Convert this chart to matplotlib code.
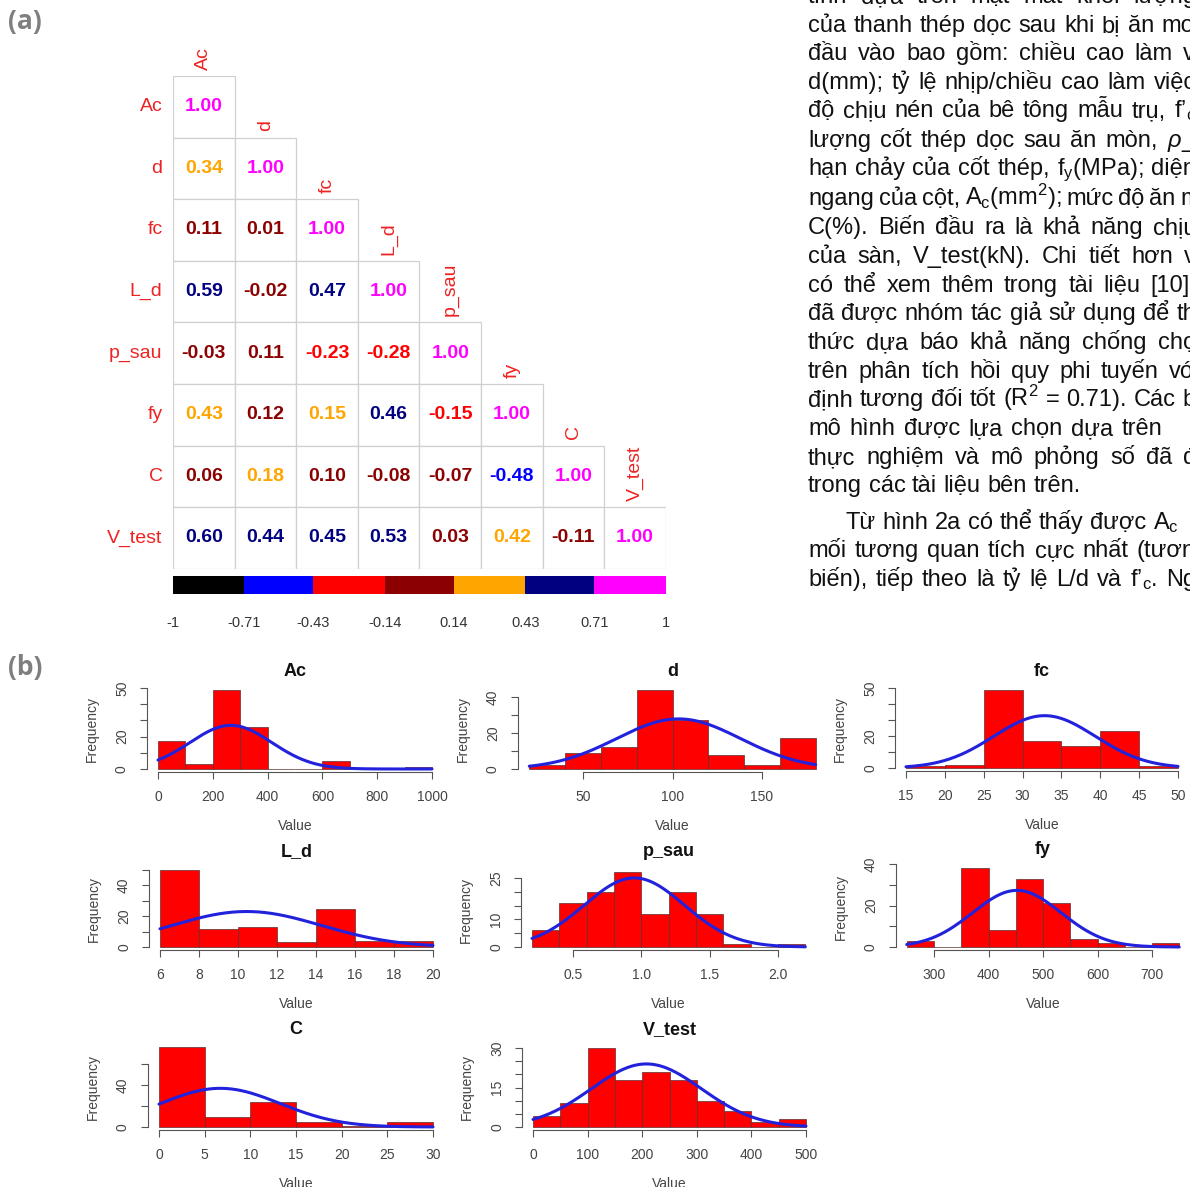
import numpy as np
import matplotlib
matplotlib.use("Agg")
import matplotlib.pyplot as plt
from matplotlib.colors import ListedColormap
from matplotlib.patches import Rectangle

W, H, DPI = 1190, 1187, 100

plt.rcParams["font.family"] = ["Liberation Sans", "Roboto", "DejaVu Sans"]
plt.rcParams["mathtext.fontset"] = "custom"
plt.rcParams["mathtext.rm"] = "Liberation Sans"
plt.rcParams["mathtext.it"] = "Liberation Sans:italic"
plt.rcParams["mathtext.bf"] = "Liberation Sans:bold"

# ---------------- correlation matrix (lower triangle) ----------------
variables = ["Ac", "d", "fc", "L_d", "p_sau", "fy", "C", "V_test"]
corr_lower = [
    [1.00],
    [0.34, 1.00],
    [0.11, 0.01, 1.00],
    [0.59, -0.02, 0.47, 1.00],
    [-0.03, 0.11, -0.23, -0.28, 1.00],
    [0.43, 0.12, 0.15, 0.46, -0.15, 1.00],
    [0.06, 0.18, 0.10, -0.08, -0.07, -0.48, 1.00],
    [0.60, 0.44, 0.45, 0.53, 0.03, 0.42, -0.11, 1.00],
]
color_breaks = [-1, -0.71, -0.43, -0.14, 0.14, 0.43, 0.71, 1]
break_labels = ["-1", "-0.71", "-0.43", "-0.14", "0.14", "0.43", "0.71", "1"]
color_levels = ["#000000", "#0000FF", "#FF0000", "#8B0000",
                "#FFA500", "#000080", "#FF00FF"]

# ---------------- histogram data ----------------
ac_edges = [0, 100, 200, 300, 400, 500, 600, 700, 800, 900, 1000]
ac_counts = [17, 3, 49, 26, 0, 0, 5, 0, 0, 1]
d_edges = [20, 40, 60, 80, 100, 120, 140, 160, 180]
d_counts = [2, 9, 12, 44, 27, 8, 2, 17]
fc_edges = [15, 20, 25, 30, 35, 40, 45, 50]
fc_counts = [1, 2, 49, 17, 14, 23, 1]
ld_edges = [6, 8, 10, 12, 14, 16, 18, 20]
ld_counts = [50, 12, 13, 3, 25, 4, 4]
psau_edges = [0.2, 0.4, 0.6, 0.8, 1.0, 1.2, 1.4, 1.6, 1.8, 2.0, 2.2]
psau_counts = [6, 16, 20, 27, 12, 20, 12, 1, 0, 1]
fy_edges = [250, 300, 350, 400, 450, 500, 550, 600, 650, 700, 750]
fy_counts = [3, 0, 38, 8, 33, 21, 4, 2, 0, 2]
c_edges = [0, 5, 10, 15, 20, 25, 30]
c_counts = [76, 10, 24, 5, 1, 5]
vt_edges = [0, 50, 100, 150, 200, 250, 300, 350, 400, 450, 500]
vt_counts = [4, 9, 30, 18, 21, 18, 10, 6, 2, 3]

ac_xticks = [0, 200, 400, 600, 800, 1000]
d_xticks = [50, 100, 150]
fc_xticks = [15, 20, 25, 30, 35, 40, 45, 50]
ld_xticks = [6, 8, 10, 12, 14, 16, 18, 20]
psau_xticks = [0.5, 1.0, 1.5, 2.0]
psau_xticklabels = ["0.5", "1.0", "1.5", "2.0"]
fy_xticks = [300, 400, 500, 600, 700]
c_xticks = [0, 5, 10, 15, 20, 25, 30]
vt_xticks = [0, 100, 200, 300, 400, 500]

ac_yticks = [0, 10, 20, 30, 40, 50]
ac_ylabels = ["0", "", "20", "", "", "50"]
d_yticks = [0, 10, 20, 30, 40]
d_ylabels = ["0", "", "20", "", "40"]
fc_yticks = [0, 10, 20, 30, 40, 50]
fc_ylabels = ["0", "", "20", "", "", "50"]
ld_yticks = [0, 10, 20, 30, 40, 50]
ld_ylabels = ["0", "", "20", "", "40", ""]
psau_yticks = [0, 5, 10, 15, 20, 25]
psau_ylabels = ["0", "", "10", "", "", "25"]
fy_yticks = [0, 10, 20, 30, 40]
fy_ylabels = ["0", "", "20", "", "40"]
c_yticks = [0, 20, 40, 60]
c_ylabels = ["0", "", "40", ""]
vt_yticks = [0, 5, 10, 15, 20, 25, 30]
vt_ylabels = ["0", "", "", "15", "", "", "30"]

fig = plt.figure(figsize=(W / DPI, H / DPI), dpi=DPI)
fig.patch.set_facecolor("white")


def px_axes(l, t, r, b):
    return fig.add_axes([l / W, 1 - b / H, (r - l) / W, (b - t) / H])


# ---------------- (a) correlation plot ----------------
gx0, gy0, cell = 173, 76, 61.6
n = len(variables)
axc = px_axes(gx0, gy0, gx0 + n * cell, gy0 + n * cell)
axc.set_xlim(0, n)
axc.set_ylim(n, 0)
axc.axis("off")
label_red = "#ee2222"
for i, row in enumerate(corr_lower):
    for j, v in enumerate(row):
        axc.add_patch(Rectangle((j, i), 1, 1, facecolor="white",
                                edgecolor="#d0d0d0", lw=0.9))
        k = min(max(int(np.searchsorted(color_breaks, v, side="left")) - 1, 0), 6)
        axc.text(j + 0.5, i + 0.5, f"{v:.2f}", ha="center", va="center",
                 fontsize=14, fontweight="bold", color=color_levels[k])
    axc.text(-0.17, i + 0.5, variables[i], ha="right", va="center",
             fontsize=14, color=label_red)
    axc.text(i + 0.5, i - 0.1, variables[i], ha="center", va="bottom",
             rotation=90, fontsize=14, color=label_red)

cax = px_axes(gx0, 576, gx0 + n * cell, 594)
cax.pcolormesh(color_breaks, [0, 1], [np.arange(len(color_levels))],
               cmap=ListedColormap(color_levels), vmin=-0.5,
               vmax=len(color_levels) - 0.5)
cax.set_xlim(-1, 1)
cax.set_ylim(0, 1)
cax.set_yticks([])
cax.set_xticks(color_breaks)
cax.set_xticklabels(break_labels)
cax.tick_params(axis="x", length=0, pad=16, labelsize=10.5, labelcolor="#333333")
for s in cax.spines.values():
    s.set_visible(False)

# ---------------- (b) histograms ----------------
panels = [
    ("Ac", ac_edges, ac_counts, ac_xticks, None, ac_yticks, ac_ylabels,
     (158, 432, 0, 1000, 769, 688, 50), 672),
    ("d", d_edges, d_counts, d_xticks, None, d_yticks, d_ylabels,
     (583, 762, 50, 150, 769, 697, 40), 672),
    ("fc", fc_edges, fc_counts, fc_xticks, None, fc_yticks, fc_ylabels,
     (906, 1178, 15, 50, 768, 688, 50), 672),
    ("L_d", ld_edges, ld_counts, ld_xticks, None, ld_yticks, ld_ylabels,
     (160, 433, 6, 20, 947, 870, 50), 852),
    ("p_sau", psau_edges, psau_counts, psau_xticks, psau_xticklabels,
     psau_yticks, psau_ylabels, (573, 778, 0.5, 2.0, 947, 878, 25), 852),
    ("fy", fy_edges, fy_counts, fy_xticks, None, fy_yticks, fy_ylabels,
     (934, 1152, 300, 700, 947, 863, 40), 850),
    ("C", c_edges, c_counts, c_xticks, None, c_yticks, c_ylabels,
     (159, 433, 0, 30, 1127, 1064, 60), 1030),
    ("V_test", vt_edges, vt_counts, vt_xticks, None, vt_yticks, vt_ylabels,
     (533, 806, 0, 500, 1127, 1048, 30), 1030),
]

axis_grey = "#555555"
for name, edges, counts, xt, xtl, yt, ytl, anchor, title_y in panels:
    pxa, pxb, va_, vb_, py0, pyt, vt_ = anchor
    edges = np.asarray(edges, float)
    counts = np.asarray(counts, float)
    lo, hi = edges[0], edges[-1]
    xlim = (lo - 0.04 * (hi - lo), hi + 0.04 * (hi - lo))
    ymax = counts.max()
    ylim = (-0.04 * ymax, 1.04 * ymax)
    sx = (pxb - pxa) / (vb_ - va_)
    sy = (py0 - pyt) / vt_
    l = pxa + (xlim[0] - va_) * sx
    r = pxa + (xlim[1] - va_) * sx
    b = py0 - ylim[0] * sy
    t = py0 - ylim[1] * sy
    ax = px_axes(l, t, r, b)
    widths = np.diff(edges)
    ax.bar(edges[:-1], counts, width=widths, align="edge", color="#ff0000",
           edgecolor="#5a3030", linewidth=0.5)
    # normal curve fitted to the binned sample
    mids = edges[:-1] + widths / 2
    ntot = counts.sum()
    mu = (mids * counts).sum() / ntot
    sd = np.sqrt(((mids - mu) ** 2 * counts).sum() / (ntot - 1))
    xs = np.linspace(lo, hi, 300)
    ys = ntot * widths[0] * np.exp(-0.5 * ((xs - mu) / sd) ** 2) / (sd * np.sqrt(2 * np.pi))
    ax.plot(xs, ys, color="#2222dd", lw=2.2, solid_capstyle="round")
    ax.set_xlim(*xlim)
    ax.set_ylim(*ylim)
    for s in ("top", "right"):
        ax.spines[s].set_visible(False)
    for s in ("left", "bottom"):
        ax.spines[s].set_color(axis_grey)
        ax.spines[s].set_linewidth(0.8)
    ax.spines["bottom"].set_bounds(xt[0], xt[-1])
    ax.spines["left"].set_bounds(yt[0], yt[-1])
    ax.set_xticks(xt)
    ax.set_xticklabels(xtl if xtl is not None else [str(v) for v in xt])
    ax.set_yticks(yt)
    ax.set_yticklabels(ytl, rotation=90, va="center")
    ax.tick_params(length=5, width=0.8, color=axis_grey, labelsize=10,
                   labelcolor="#444444", pad=8)
    ax.set_facecolor("none")
    cx = (l + r) / 2
    fig.text(cx / W, 1 - title_y / H, name, ha="center", va="center",
             fontsize=13, fontweight="bold", color="#111111")
    fig.text(cx / W, 1 - (b + 54) / H, "Value", ha="center", va="center",
             fontsize=10, color="#444444")
    fig.text((l - 55) / W, 1 - ((t + b) / 2) / H, "Frequency", ha="center",
             va="center", rotation=90, fontsize=10, color="#444444")

# ---------------- panel letters ----------------
for txt, y in (("(a)", 22), ("(b)", 667)):
    fig.text(8 / W, 1 - y / H, txt, ha="left", va="center", fontsize=19,
             fontweight="bold", color="#7f7f7f", family=["Open Sans", "DejaVu Sans"])

# ---------------- body text column ----------------
body_lines = [
    ("tính dựa trên mặt mất khối lượng", 808, -4, 1196),
    ("của thanh thép dọc sau khi bị ăn mo", 808, 25, 1194),
    ("đầu vào bao gồm: chiều cao làm v", 808, 53, 1195),
    ("d(mm); tỷ lệ nhịp/chiều cao làm việc", 808, 82, 1196),
    ("độ chịu nén của bê tông mẫu trụ, f’$_\\mathregular{c}$", 808, 110, 1196),
    ("lượng cốt thép dọc sau ăn mòn, $\\rho$_", 808, 140, 1196),
    ("hạn chảy của cốt thép, f$_\\mathregular{y}$(MPa); diện", 808, 168, 1196),
    ("ngang của cột, A$_\\mathregular{c}$(mm$^\\mathregular{2}$); mức độ ăn m", 808, 198, 1200),
    ("C(%). Biến đầu ra là khả năng chịu", 808, 227, 1196),
    ("của sàn, V_test(kN). Chi tiết hơn v", 808, 256, 1196),
    ("có thể xem thêm trong tài liệu [10]", 808, 285, 1190),
    ("đã được nhóm tác giả sử dụng để th", 808, 313, 1196),
    ("thức dựa báo khả năng chống chọ", 808, 342, 1196),
    ("trên phân tích hồi quy phi tuyến vớ", 808, 371, 1196),
    ("định tương đối tốt (R$^\\mathregular{2}$ = 0.71). Các b", 808, 399, 1196),
    ("mô hình được lựa chọn dựa trên", 808, 428, 1162),
    ("thực nghiệm và mô phỏng số đã đ", 808, 457, 1196),
    ("trong các tài liệu bên trên.", 808, 485, None),
    ("Từ hình 2a có thể thấy được A$_\\mathregular{c}$", 846, 522, None),
    ("mối tương quan tích cực nhất (tươn", 808, 550, 1196),
    ("biến), tiếp theo là tỷ lệ L/d và f’$_\\mathregular{c}$. Ng", 808, 579, 1196),
]
body_size = 17
renderer = fig.canvas.get_renderer()
space_px = 0.278 * body_size * DPI / 72
for text, x0, yc, x_end in body_lines:
    words = text.split(" ")
    arts = [fig.text(0, 0, w, fontsize=body_size, color="#111111",
                     ha="left", va="baseline") for w in words]
    widths = [a.get_window_extent(renderer).width for a in arts]
    if x_end is None or len(words) < 2:
        gap = space_px
    else:
        gap = (x_end - x0 - sum(widths)) / (len(words) - 1)
    x = x0
    yb = yc + 7
    for a, w in zip(arts, widths):
        a.set_position((x / W, 1 - yb / H))
        x += w + gap

fig.savefig("out.png", dpi=DPI, facecolor="white")
